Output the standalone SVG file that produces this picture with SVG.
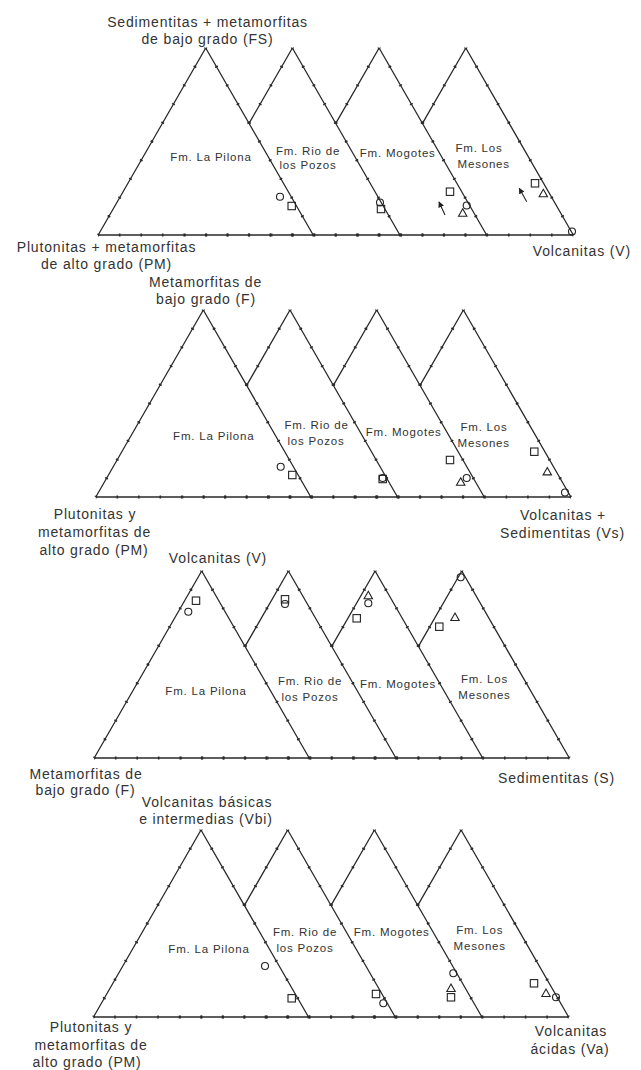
<svg xmlns="http://www.w3.org/2000/svg" xmlns:xlink="http://www.w3.org/1999/xlink" width="641" height="1070" viewBox="0 0 641 1070">
<style>
.edge{fill:none;stroke:#2a2a2a;stroke-width:1.3}
.tk{fill:none;stroke:#2a2a2a;stroke-width:3;stroke-dasharray:1.6 19.969;stroke-dashoffset:0.8}
.tb{fill:none;stroke:#2a2a2a;stroke-width:3;stroke-dasharray:1.6 19.9;stroke-dashoffset:0.8}
.mk{fill:none;stroke:#222;stroke-width:1.1}
.ar{fill:none;stroke:#222;stroke-width:1.1}
text{font-family:"Liberation Sans",Arial,sans-serif;fill:#333}
.ol{font-size:14px;letter-spacing:0.85px;text-anchor:middle}
.il{font-size:11.5px;letter-spacing:0.8px;text-anchor:middle}
</style>
<defs>
<g id="frame">
<path class="edge" d="M0,0 L-107.5,187 M0,0 L107.5,187 M86.7,0 L194.2,187 M173.4,0 L280.9,187 M260.1,0 L367.6,187 M86.7,0 L43.35,75.4 M173.4,0 L130.05,75.4 M260.1,0 L216.75,75.4 M-107.5,187 H367.6"/>
<path class="tk" d="M0,0 L-107.5,187"/>
<path class="tk" d="M0,0 L107.5,187"/>
<path class="tk" d="M86.7,0 L194.2,187"/>
<path class="tk" d="M173.4,0 L280.9,187"/>
<path class="tk" d="M260.1,0 L367.6,187"/>
<path class="tk" d="M86.7,0 L43.35,75.4"/>
<path class="tk" d="M173.4,0 L130.05,75.4"/>
<path class="tk" d="M260.1,0 L216.75,75.4"/>
<path class="tb" d="M-107.5,187 H107.5"/>
<path class="tb" d="M-20.8,187 H194.2"/>
<path class="tb" d="M65.9,187 H280.9"/>
<path class="tb" d="M152.6,187 H367.6"/>
</g>
<circle id="c" class="mk" r="3.5"/>
<rect id="s" class="mk" x="-3.7" y="-3.7" width="7.4" height="7.4"/>
<path id="t" class="mk" d="M0,-4.2 L4.2,3.2 L-4.2,3.2 Z"/>
<marker id="ah" viewBox="0 0 8 8" refX="7" refY="4" markerWidth="6" markerHeight="6" orient="auto" markerUnits="userSpaceOnUse">
<path d="M0,0 L8,4 L0,8 Z" fill="#222"/>
</marker>
</defs>

<g id="panel1">
<use xlink:href="#frame" href="#frame" x="205.7" y="48"/>
<text class="ol" x="207.5" y="27">Sedimentitas + metamorfitas</text>
<text class="ol" x="207.5" y="44">de bajo grado (FS)</text>
<text class="ol" x="106.5" y="252">Plutonitas + metamorfitas</text>
<text class="ol" x="106.5" y="269">de alto grado (PM)</text>
<text class="ol" x="631" y="256" style="text-anchor:end">Volcanitas (V)</text>
<text class="il" x="211" y="161">Fm. La Pilona</text>
<text class="il" x="308" y="155">Fm. Rio de</text>
<text class="il" x="308" y="169">los Pozos</text>
<text class="il" x="397.7" y="157">Fm. Mogotes</text>
<text class="il" x="479" y="152">Fm. Los</text>
<text class="il" x="483.7" y="168">Mesones</text>
<use href="#c" xlink:href="#c" x="280" y="196.7"/>
<use href="#s" xlink:href="#s" x="291.7" y="206"/>
<use href="#c" xlink:href="#c" x="380" y="202.5"/>
<use href="#s" xlink:href="#s" x="381" y="209"/>
<use href="#s" xlink:href="#s" x="450" y="191.7"/>
<use href="#t" xlink:href="#t" x="462.7" y="213"/>
<use href="#c" xlink:href="#c" x="466.7" y="205.5"/>
<use href="#s" xlink:href="#s" x="535" y="183.3"/>
<use href="#t" xlink:href="#t" x="543.3" y="193.5"/>
<use href="#c" xlink:href="#c" x="572" y="231.5"/>
<g id="arrows">
<line class="ar" x1="445" y1="215" x2="439" y2="202" marker-end="url(#ah)"/>
<line class="ar" x1="526.7" y1="201.7" x2="519.3" y2="188.3" marker-end="url(#ah)"/>
</g>
</g>

<g id="panel2">
<use xlink:href="#frame" href="#frame" x="203.3" y="310"/>
<text class="ol" x="205.5" y="287">Metamorfitas de</text>
<text class="ol" x="206" y="304">bajo grado (F)</text>
<text class="ol" x="95" y="519">Plutonitas y</text>
<text class="ol" x="94.5" y="537">metamorfitas de</text>
<text class="ol" x="94" y="555">alto grado (PM)</text>
<text class="ol" x="563" y="520">Volcanitas +</text>
<text class="ol" x="562.5" y="538">Sedimentitas (Vs)</text>
<text class="il" x="213.8" y="440">Fm. La Pilona</text>
<text class="il" x="316.5" y="429">Fm. Rio de</text>
<text class="il" x="316" y="445">los Pozos</text>
<text class="il" x="403.7" y="436">Fm. Mogotes</text>
<text class="il" x="484" y="431">Fm. Los</text>
<text class="il" x="483.7" y="447">Mesones</text>
<use href="#c" xlink:href="#c" x="280.7" y="466.7"/>
<use href="#s" xlink:href="#s" x="292.3" y="475"/>
<use href="#s" xlink:href="#s" x="382.7" y="479"/>
<use href="#c" xlink:href="#c" x="382.7" y="478"/>
<use href="#s" xlink:href="#s" x="450" y="460"/>
<use href="#t" xlink:href="#t" x="460.7" y="482"/>
<use href="#c" xlink:href="#c" x="466.7" y="478"/>
<use href="#s" xlink:href="#s" x="534.3" y="451.7"/>
<use href="#t" xlink:href="#t" x="547.3" y="471.7"/>
<use href="#c" xlink:href="#c" x="565" y="492.5"/>
</g>

<g id="panel3">
<use xlink:href="#frame" href="#frame" x="201.7" y="571"/>
<text class="ol" x="218" y="563">Volcanitas (V)</text>
<text class="ol" x="86" y="779">Metamorfitas de</text>
<text class="ol" x="85.5" y="795">bajo grado (F)</text>
<text class="ol" x="556.5" y="783">Sedimentitas (S)</text>
<text class="il" x="206" y="695">Fm. La Pilona</text>
<text class="il" x="310" y="685">Fm. Rio de</text>
<text class="il" x="310" y="701">los Pozos</text>
<text class="il" x="398" y="688">Fm. Mogotes</text>
<text class="il" x="484.5" y="683">Fm. Los</text>
<text class="il" x="484.5" y="699">Mesones</text>
<use href="#s" xlink:href="#s" x="196" y="600.7"/>
<use href="#c" xlink:href="#c" x="188.3" y="611.7"/>
<use href="#s" xlink:href="#s" x="285" y="599.3"/>
<use href="#c" xlink:href="#c" x="285" y="604"/>
<use href="#t" xlink:href="#t" x="368.3" y="595.5"/>
<use href="#c" xlink:href="#c" x="368.3" y="603.3"/>
<use href="#s" xlink:href="#s" x="356.7" y="618.3"/>
<use href="#c" xlink:href="#c" x="460.7" y="577.3"/>
<use href="#t" xlink:href="#t" x="455" y="617.3"/>
<use href="#s" xlink:href="#s" x="439.3" y="626.7"/>
</g>

<g id="panel4">
<use xlink:href="#frame" href="#frame" x="201" y="830"/>
<text class="ol" x="207" y="807">Volcanitas básicas</text>
<text class="ol" x="206" y="824">e intermedias (Vbi)</text>
<text class="ol" x="91" y="1032">Plutonitas y</text>
<text class="ol" x="91" y="1050">metamorfitas de</text>
<text class="ol" x="87" y="1067">alto grado (PM)</text>
<text class="ol" x="571" y="1036">Volcanitas</text>
<text class="ol" x="570" y="1054">ácidas (Va)</text>
<text class="il" x="209" y="953">Fm. La Pilona</text>
<text class="il" x="305" y="936">Fm. Rio de</text>
<text class="il" x="305" y="952">los Pozos</text>
<text class="il" x="391.7" y="936">Fm. Mogotes</text>
<text class="il" x="479.7" y="934">Fm. Los</text>
<text class="il" x="479.7" y="950">Mesones</text>
<use href="#c" xlink:href="#c" x="265" y="966"/>
<use href="#s" xlink:href="#s" x="291.7" y="998.3"/>
<use href="#s" xlink:href="#s" x="376" y="994"/>
<use href="#c" xlink:href="#c" x="383.3" y="1003.3"/>
<use href="#c" xlink:href="#c" x="453.3" y="973.3"/>
<use href="#t" xlink:href="#t" x="451" y="988.3"/>
<use href="#s" xlink:href="#s" x="451" y="997.3"/>
<use href="#s" xlink:href="#s" x="534" y="983.3"/>
<use href="#t" xlink:href="#t" x="546" y="993.3"/>
<use href="#c" xlink:href="#c" x="556" y="997.3"/>
</g>
</svg>
